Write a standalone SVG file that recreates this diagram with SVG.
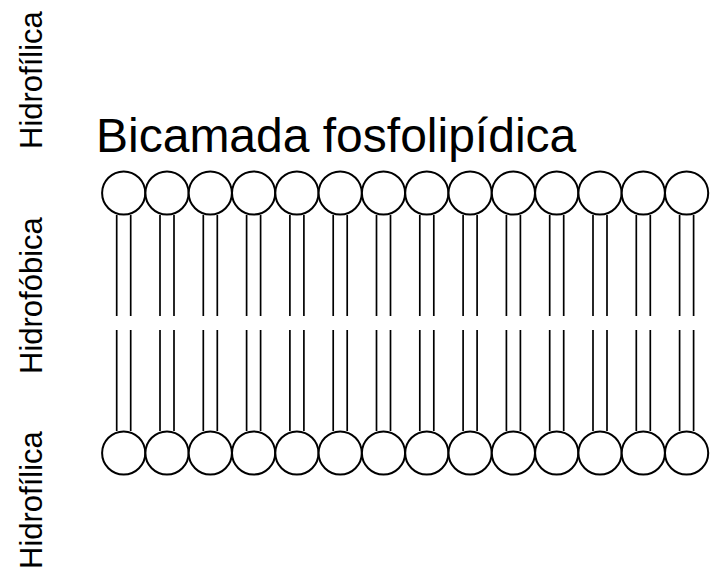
<svg xmlns="http://www.w3.org/2000/svg" width="710" height="570" viewBox="0 0 710 570">
  <style>
    .head { fill: #ffffff; stroke: #000000; stroke-width: 2; }
    .tail { stroke: #000000; stroke-width: 1.7; fill: none; }
    .side { font-family: "Liberation Sans", Arial, sans-serif; font-size: 31px; fill: #000000; }
    .title { font-family: "Liberation Sans", Arial, sans-serif; font-size: 48px; fill: #000000; }
  </style>
  <defs>
    <!-- upper leaflet phospholipid: head with two tails hanging down -->
    <g id="lipid-up">
      <line class="tail" x1="-7" y1="215" x2="-7" y2="316"/>
      <line class="tail" x1="7" y1="215" x2="7" y2="316"/>
      <circle class="head" cx="0" cy="193" r="21.6"/>
    </g>
    <!-- lower leaflet phospholipid: tails pointing up to the centre -->
    <g id="lipid-down">
      <line class="tail" x1="-7" y1="330" x2="-7" y2="431"/>
      <line class="tail" x1="7" y1="330" x2="7" y2="431"/>
      <circle class="head" cx="0" cy="453" r="21.6"/>
    </g>
  </defs>
  <rect width="710" height="570" fill="#ffffff"/>

  <g id="labels">
    <text class="side" transform="translate(42,149) rotate(-90)">Hidrofílica</text>
    <text class="side" transform="translate(42,374) rotate(-90)">Hidrofóbica</text>
    <text class="side" transform="translate(42,569) rotate(-90)">Hidrofílica</text>
    <text class="title" x="96" y="152">Bicamada fosfolipídica</text>
  </g>

  <g id="upper-leaflet">
    <use href="#lipid-up" x="123.7"/>
    <use href="#lipid-up" x="167.0"/>
    <use href="#lipid-up" x="210.3"/>
    <use href="#lipid-up" x="253.6"/>
    <use href="#lipid-up" x="296.9"/>
    <use href="#lipid-up" x="340.2"/>
    <use href="#lipid-up" x="383.5"/>
    <use href="#lipid-up" x="426.8"/>
    <use href="#lipid-up" x="470.1"/>
    <use href="#lipid-up" x="513.4"/>
    <use href="#lipid-up" x="556.7"/>
    <use href="#lipid-up" x="600.0"/>
    <use href="#lipid-up" x="643.3"/>
    <use href="#lipid-up" x="686.6"/>
  </g>

  <g id="lower-leaflet">
    <use href="#lipid-down" x="123.7"/>
    <use href="#lipid-down" x="167.0"/>
    <use href="#lipid-down" x="210.3"/>
    <use href="#lipid-down" x="253.6"/>
    <use href="#lipid-down" x="296.9"/>
    <use href="#lipid-down" x="340.2"/>
    <use href="#lipid-down" x="383.5"/>
    <use href="#lipid-down" x="426.8"/>
    <use href="#lipid-down" x="470.1"/>
    <use href="#lipid-down" x="513.4"/>
    <use href="#lipid-down" x="556.7"/>
    <use href="#lipid-down" x="600.0"/>
    <use href="#lipid-down" x="643.3"/>
    <use href="#lipid-down" x="686.6"/>
  </g>
</svg>
